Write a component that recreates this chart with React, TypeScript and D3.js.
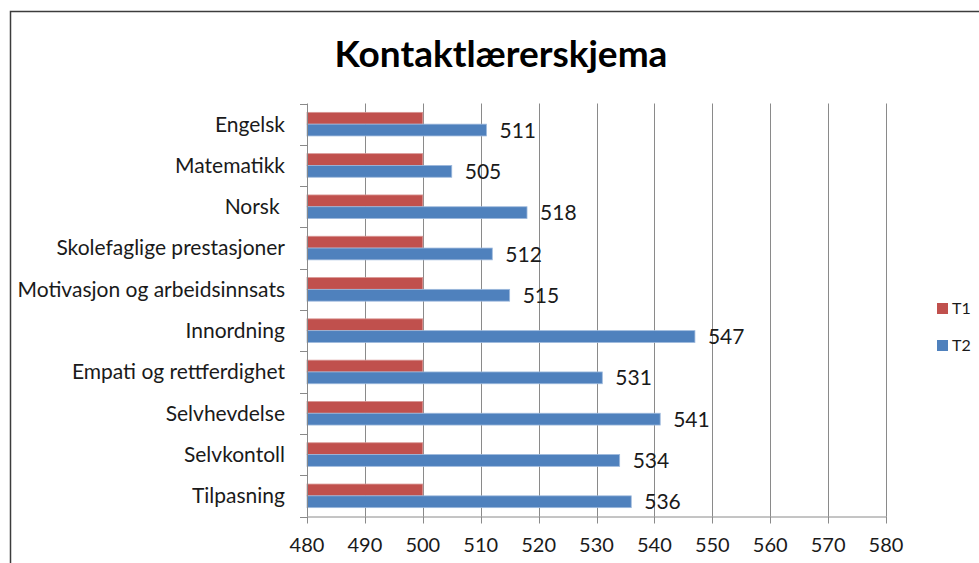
import * as d3 from 'd3'

const categories = [
  'Engelsk',
  'Matematikk',
  'Norsk ',
  'Skolefaglige prestasjoner',
  'Motivasjon og arbeidsinnsats',
  'Innordning',
  'Empati og rettferdighet',
  'Selvhevdelse',
  'Selvkontoll',
  'Tilpasning',
]
const series = ['T1', 'T2']
const t1Values = [500, 500, 500, 500, 500, 500, 500, 500, 500, 500]
const t2Values = [511, 505, 518, 512, 515, 547, 531, 541, 534, 536]
const xTicks = [480, 490, 500, 510, 520, 530, 540, 550, 560, 570, 580]

const colors = { T1: '#C0504D', T2: '#4F81BD' }
const edges = { T1: '#D99795', T2: '#9DB9DC' }
const FONT = 'Lato, Calibri, sans-serif'

const App = () => {
  const width = 979
  const height = 563
  const plot = { left: 307, right: 886, top: 103.5, bottom: 516.5 }

  const x = d3.scaleLinear().domain([480, 580]).range([plot.left, plot.right])
  const y = d3.scaleBand().domain(categories).range([plot.top, plot.bottom]).padding(0)
  // two bars per category, gap width ~150%
  const inner = d3
    .scaleBand()
    .domain(series)
    .range([0, y.bandwidth()])
    .paddingInner(0)
    .paddingOuter(0.75)

  const rows = categories.map((c, i) => ({ cat: c, T1: t1Values[i], T2: t2Values[i] }))
  const tickY = d3.range(categories.length + 1).map(i => plot.top + i * y.step())

  return (
    <div style={{ position: 'fixed', left: 0, top: 0 }}>
      <svg width={width} height={height} style={{ display: 'block', background: '#fff' }}>
        {/* chart frame */}
        <rect x={10.5} y={11.5} width={1000} height={600} fill="none" stroke="#3c3c3c" strokeWidth={1.5} />

        <text x={501} y={67} textAnchor="middle" fontFamily={FONT} fontWeight="bold" fontSize={37} fill="#000">
          Kontaktlærerskjema
        </text>

        {/* vertical gridlines */}
        {xTicks.slice(1).map(t => (
          <line key={t} x1={Math.round(x(t)) + 0.5} x2={Math.round(x(t)) + 0.5} y1={plot.top} y2={plot.bottom} stroke="#8a8a8a" />
        ))}

        {/* bars */}
        {rows.map(r =>
          series.map(s => (
            <rect
              key={r.cat + s}
              x={x(480)}
              y={y(r.cat) + inner(s)}
              width={x(r[s]) - x(480)}
              height={inner.bandwidth()}
              fill={colors[s]}
              stroke={edges[s]}
              strokeWidth={0.8}
            />
          ))
        )}

        {/* y axis */}
        <line x1={plot.left + 0.5} x2={plot.left + 0.5} y1={plot.top} y2={plot.bottom} stroke="#8a8a8a" />
        {tickY.map((ty, i) => (
          <line key={i} x1={plot.left - 7} x2={plot.left + 0.5} y1={Math.round(ty) + 0.5} y2={Math.round(ty) + 0.5} stroke="#8a8a8a" />
        ))}
        {categories.map(c => (
          <text
            key={c}
            x={plot.left - 22}
            y={y(c) + y.bandwidth() / 2}
            dy="0.35em"
            textAnchor="end"
            fontFamily={FONT}
            fontSize={21}
            fill="#1a1a1a"
            style={{ whiteSpace: 'pre' }}
          >
            {c}
          </text>
        ))}

        {/* x axis */}
        <line x1={plot.left} x2={plot.right + 0.5} y1={plot.bottom + 0.5} y2={plot.bottom + 0.5} stroke="#8a8a8a" />
        {xTicks.map(t => (
          <g key={t}>
            <line x1={Math.round(x(t)) + 0.5} x2={Math.round(x(t)) + 0.5} y1={plot.bottom} y2={plot.bottom + 7} stroke="#8a8a8a" />
            <text x={x(t)} y={552} textAnchor="middle" fontFamily={FONT} fontSize={20} fill="#1a1a1a">
              {t}
            </text>
          </g>
        ))}

        {/* data labels for T2 */}
        {rows.map(r => (
          <text
            key={'lbl' + r.cat}
            x={x(r.T2) + 13}
            y={y(r.cat) + inner('T2') + inner.bandwidth() / 2}
            dy="0.36em"
            fontFamily={FONT}
            fontSize={21}
            fill="#1a1a1a"
          >
            {r.T2}
          </text>
        ))}

        {/* legend */}
        {series.map((s, i) => (
          <g key={s} transform={`translate(937, ${303 + i * 37})`}>
            <rect width={11} height={11} fill={colors[s]} />
            <text x={15} y={5.5} dy="0.36em" fontFamily={FONT} fontSize={16} fill="#1a1a1a">
              {s}
            </text>
          </g>
        ))}
      </svg>
    </div>
  )
}

export default App
